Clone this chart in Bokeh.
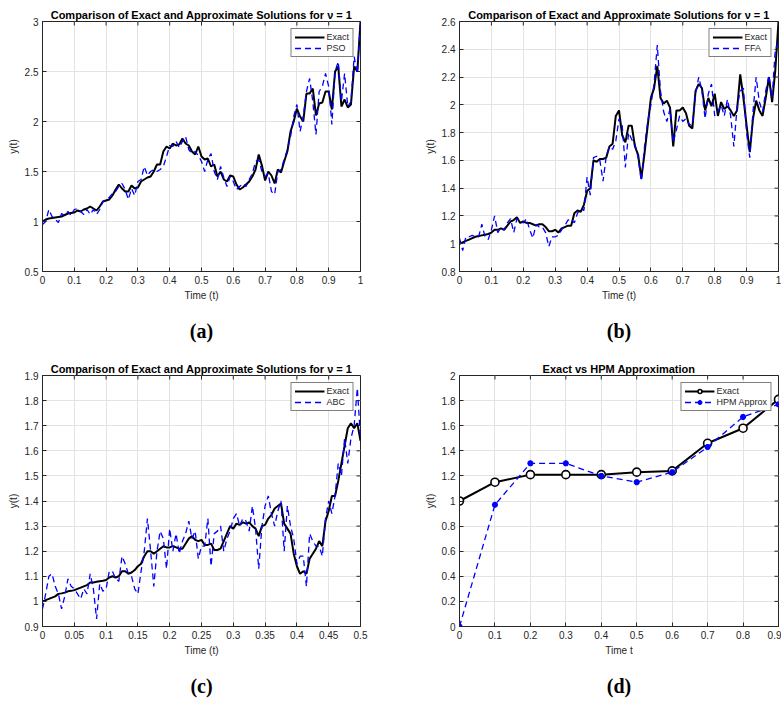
import numpy as np
from bokeh.plotting import figure
from bokeh.models import (FixedTicker, Legend, LegendItem, Title, Range1d)
from bokeh.layouts import column, row
from bokeh.embed import file_html
from bokeh.resources import INLINE

# ---------------- data ----------------
title_cmp = "Comparison of Exact and Approximate Solutions for \u03bd = 1"
title_hpm = "Exact vs HPM Approximation"

t_ab = np.linspace(0, 1, 101)
t_c = np.linspace(0, 0.5, 101)
t_d = [0, 0.1, 0.2, 0.3, 0.4, 0.5, 0.6, 0.7, 0.8, 0.9]

exact_a = [1.00, 1.02, 1.03, 1.035, 1.04, 1.045, 1.05, 1.065, 1.08, 1.085,
           1.09, 1.11, 1.10, 1.12, 1.13, 1.15, 1.13, 1.11, 1.15, 1.20,
           1.21, 1.22, 1.26, 1.32, 1.37, 1.33, 1.30, 1.30, 1.36, 1.33,
           1.34, 1.40, 1.42, 1.44, 1.45, 1.50, 1.57, 1.57, 1.70, 1.75,
           1.73, 1.78, 1.76, 1.77, 1.83, 1.78, 1.76, 1.70, 1.67, 1.75,
           1.65, 1.62, 1.63, 1.55, 1.57, 1.45, 1.50, 1.42, 1.40, 1.46,
           1.45, 1.37, 1.32, 1.34, 1.37, 1.40, 1.45, 1.52, 1.67, 1.56,
           1.41, 1.50, 1.46, 1.38, 1.52, 1.49, 1.60, 1.70, 1.90, 2.00,
           2.13, 2.05, 2.00, 2.28, 2.28, 2.33, 2.06, 2.18, 2.19, 2.30,
           2.30, 2.12, 2.50, 2.55, 2.15, 2.22, 2.14, 2.17, 2.55, 2.50,
           3.00]
pso_a = [0.97, 1.00, 1.12, 1.05, 1.02, 0.99, 1.08, 1.06, 1.10, 1.06,
         1.12, 1.13, 1.10, 1.07, 1.12, 1.07, 1.12, 1.07, 1.12, 1.20,
         1.22, 1.24, 1.28, 1.30, 1.35, 1.38, 1.32, 1.22, 1.33, 1.26,
         1.40, 1.42, 1.55, 1.46, 1.50, 1.52, 1.50, 1.52, 1.55, 1.65,
         1.76, 1.75, 1.80, 1.74, 1.80, 1.85, 1.72, 1.68, 1.70, 1.66,
         1.60, 1.50, 1.62, 1.68, 1.50, 1.42, 1.55, 1.44, 1.35, 1.45,
         1.40, 1.32, 1.35, 1.38, 1.35, 1.42, 1.48, 1.60, 1.62, 1.50,
         1.45, 1.48, 1.30, 1.27, 1.50, 1.52, 1.62, 1.72, 1.85, 2.05,
         2.17, 1.90, 2.05, 2.30, 2.43, 2.20, 1.87, 2.30, 2.35, 2.48,
         2.35, 1.97, 2.50, 2.60, 2.20, 2.48, 2.15, 2.20, 2.65, 2.48,
         3.00]

exact_b = [1.00, 1.01, 1.02, 1.03, 1.04, 1.05, 1.055, 1.06, 1.065, 1.07,
           1.08, 1.10, 1.10, 1.11, 1.10, 1.13, 1.16, 1.17, 1.19, 1.15,
           1.16, 1.15, 1.15, 1.14, 1.13, 1.14, 1.14, 1.12, 1.09, 1.09,
           1.10, 1.08, 1.11, 1.12, 1.13, 1.13, 1.22, 1.24, 1.23, 1.28,
           1.38, 1.40, 1.60, 1.59, 1.61, 1.61, 1.62, 1.70, 1.72, 1.92,
           1.96, 1.78, 1.73, 1.85, 1.85, 1.70, 1.64, 1.47, 1.65, 1.85,
           2.05, 2.12, 2.28, 2.05, 2.01, 2.03, 1.98, 1.70, 1.96, 1.96,
           1.98, 1.94, 1.85, 1.83, 2.10, 2.15, 2.12, 1.96, 2.05, 1.99,
           2.08, 1.92, 2.02, 1.97, 1.99, 1.96, 1.92, 1.96, 2.22, 2.05,
           1.85, 1.66, 1.90, 2.03, 1.96, 1.92, 2.05, 2.20, 2.02, 2.25,
           2.60]
ffa_b = [1.04, 0.95, 1.05, 1.05, 1.06, 1.05, 1.05, 1.14, 1.05, 1.03,
         1.10, 1.20, 1.08, 1.12, 1.10, 1.15, 1.18, 1.08, 1.18, 1.17,
         1.15, 1.18, 1.10, 1.04, 1.14, 1.12, 1.12, 1.08, 0.98, 1.05,
         1.05, 1.06, 1.10, 1.13, 1.17, 1.18, 1.15, 1.22, 1.25, 1.24,
         1.48, 1.35, 1.62, 1.63, 1.60, 1.45, 1.63, 1.70, 1.68, 1.74,
         1.90, 1.85, 1.55, 1.80, 1.75, 1.72, 1.62, 1.45, 1.70, 1.88,
         2.00, 2.15, 2.43, 2.10, 1.95, 1.88, 1.97, 1.73, 1.82, 1.92,
         1.88, 1.90, 1.86, 1.85, 2.08, 2.20, 2.10, 1.90, 2.08, 2.15,
         1.92, 1.95, 2.00, 1.92, 2.04, 1.92, 1.70, 1.98, 2.10, 2.12,
         1.80, 1.62, 1.95, 2.20, 2.02, 1.95, 2.10, 2.21, 2.05, 2.40,
         2.45]

exact_c = [1.00, 1.005, 1.01, 1.015, 1.02, 1.03, 1.032, 1.035, 1.04, 1.042,
           1.045, 1.05, 1.055, 1.06, 1.065, 1.075, 1.075, 1.078, 1.08, 1.082,
           1.085, 1.095, 1.10, 1.095, 1.10, 1.12, 1.12, 1.11, 1.115, 1.125,
           1.14, 1.15, 1.18, 1.20, 1.20, 1.19, 1.20, 1.21, 1.22, 1.215,
           1.215, 1.22, 1.215, 1.21, 1.21, 1.23, 1.25, 1.26, 1.245, 1.24,
           1.245, 1.225, 1.225, 1.23, 1.205, 1.205, 1.21, 1.24, 1.27, 1.30,
           1.29, 1.31, 1.305, 1.315, 1.31, 1.315, 1.30, 1.29, 1.26, 1.30,
           1.305, 1.33, 1.345, 1.37, 1.38, 1.39, 1.31, 1.29, 1.27, 1.19,
           1.14, 1.11, 1.12, 1.11, 1.17, 1.19, 1.21, 1.24, 1.22, 1.32,
           1.36, 1.42, 1.42, 1.48, 1.55, 1.62, 1.69, 1.71, 1.69, 1.71,
           1.64]
abc_c = [0.97, 1.03, 1.10, 1.11, 1.06, 1.03, 0.97, 1.02, 1.09, 1.06,
         1.05, 1.03, 1.01, 1.05, 1.03, 1.11, 1.05, 0.93, 1.07, 1.04,
         1.05, 1.12, 1.12, 1.09, 1.08, 1.18, 1.15, 1.11, 1.10, 1.05,
         1.03, 1.12, 1.20, 1.33, 1.20, 1.06, 1.20, 1.28, 1.25, 1.13,
         1.29, 1.20, 1.27, 1.19, 1.24, 1.27, 1.32, 1.25, 1.28, 1.17,
         1.22, 1.22, 1.33, 1.14, 1.27, 1.28, 1.30, 1.20, 1.25, 1.28,
         1.33, 1.35, 1.30, 1.33, 1.32, 1.28, 1.38, 1.29, 1.13, 1.30,
         1.38, 1.42, 1.35, 1.30, 1.36, 1.40, 1.20, 1.38, 1.30, 1.25,
         1.15, 1.18, 1.18, 1.06, 1.27, 1.24, 1.22, 1.22, 1.18, 1.33,
         1.40, 1.35, 1.42, 1.55, 1.50, 1.65, 1.55, 1.65, 1.70, 1.85,
         1.65]

exact_d = [1.00, 1.15, 1.21, 1.21, 1.21, 1.23, 1.24, 1.46, 1.58, 1.81]
hpm_d = [0.00, 0.97, 1.30, 1.30, 1.20, 1.15, 1.23, 1.43, 1.67, 1.77]

xt_ab = [0, 0.1, 0.2, 0.3, 0.4, 0.5, 0.6, 0.7, 0.8, 0.9, 1]
xl_ab = ["0", "0.1", "0.2", "0.3", "0.4", "0.5", "0.6", "0.7", "0.8", "0.9", "1"]
xt_c = [0, 0.05, 0.1, 0.15, 0.2, 0.25, 0.3, 0.35, 0.4, 0.45, 0.5]
xl_c = ["0", "0.05", "0.1", "0.15", "0.2", "0.25", "0.3", "0.35", "0.4", "0.45", "0.5"]
xt_d = [0, 0.1, 0.2, 0.3, 0.4, 0.5, 0.6, 0.7, 0.8, 0.9]
xl_d = ["0", "0.1", "0.2", "0.3", "0.4", "0.5", "0.6", "0.7", "0.8", "0.9"]
yt_a = [0.5, 1, 1.5, 2, 2.5, 3]
yl_a = ["0.5", "1", "1.5", "2", "2.5", "3"]
yt_b = [0.8, 1, 1.2, 1.4, 1.6, 1.8, 2, 2.2, 2.4, 2.6]
yl_b = ["0.8", "1", "1.2", "1.4", "1.6", "1.8", "2", "2.2", "2.4", "2.6"]
yt_c = [0.9, 1, 1.1, 1.2, 1.3, 1.4, 1.5, 1.6, 1.7, 1.8, 1.9]
yl_c = ["0.9", "1", "1.1", "1.2", "1.3", "1.4", "1.5", "1.6", "1.7", "1.8", "1.9"]
yt_d = [0, 0.2, 0.4, 0.6, 0.8, 1, 1.2, 1.4, 1.6, 1.8, 2]
yl_d = ["0", "0.2", "0.4", "0.6", "0.8", "1", "1.2", "1.4", "1.6", "1.8", "2"]

# ---------------- style ----------------
FONT = "Liberation Sans"
AX = "#262626"
GRID = "#e3e3e3"
BLUE = "#0000ff"
TICK_PX = 4


def make_fig(xr, yr, xt, xl, yt, yl, title, xlabel, caption,
             fw, fh, bl, br, bt, bb):
    p = figure(frame_width=fw, frame_height=fh,
               x_range=Range1d(*xr), y_range=Range1d(*yr),
               output_backend="svg", toolbar_location=None,
               min_border_left=bl, min_border_right=br,
               min_border_top=bt, min_border_bottom=bb,
               title=title)
    p.title.text_font = FONT
    p.title.text_font_size = "11px"
    p.title.text_font_style = "bold"
    p.title.text_color = "black"
    p.title.align = "center"
    p.title.standoff = 2
    p.outline_line_color = AX
    p.outline_line_width = 1
    p.background_fill_color = "white"
    p.border_fill_color = "white"

    p.xaxis.ticker = FixedTicker(ticks=xt)
    p.xaxis.major_label_overrides = dict(zip(xt, xl))
    p.yaxis.ticker = FixedTicker(ticks=yt)
    p.yaxis.major_label_overrides = dict(zip(yt, yl))
    p.xaxis.axis_label = xlabel
    p.yaxis.axis_label = "y(t)"
    for ax in (p.xaxis, p.yaxis):
        ax.axis_line_color = AX
        ax.major_tick_line_color = AX
        ax.major_tick_in = TICK_PX
        ax.major_tick_out = 0
        ax.minor_tick_line_color = None
        ax.major_label_text_font = FONT
        ax.major_label_text_font_size = "10px"
        ax.major_label_text_color = AX
        ax.axis_label_text_font = FONT
        ax.axis_label_text_font_size = "10px"
        ax.axis_label_text_font_style = "normal"
        ax.axis_label_text_color = AX
        ax.major_label_standoff = 4
        ax.axis_label_standoff = 3

    # inward tick marks on the top and right edges of the box
    dy = (yr[1] - yr[0]) * TICK_PX / fh
    dx = (xr[1] - xr[0]) * TICK_PX / fw
    p.segment(x0=xt, y0=[yr[1]] * len(xt), x1=xt, y1=[yr[1] - dy] * len(xt),
              line_color=AX, line_width=1)
    p.segment(x0=[xr[1]] * len(yt), y0=yt, x1=[xr[1] - dx] * len(yt), y1=yt,
              line_color=AX, line_width=1)

    p.grid.grid_line_color = GRID
    p.grid.grid_line_width = 1
    p.xgrid.ticker = FixedTicker(ticks=xt)
    p.ygrid.ticker = FixedTicker(ticks=yt)

    cap = Title(text=caption, align="center", text_font="Liberation Serif",
                text_font_size="20px", text_font_style="bold",
                text_color="black", standoff=29)
    p.add_layout(cap, "below")
    return p


def add_legend(p, items):
    lg = Legend(items=items, location="top_right")
    lg.border_line_color = "black"
    lg.border_line_width = 1
    lg.background_fill_color = "white"
    lg.background_fill_alpha = 1
    lg.label_text_font = FONT
    lg.label_text_font_size = "9px"
    lg.label_text_color = AX
    lg.glyph_width = 30
    lg.glyph_height = 10
    lg.label_height = 10
    lg.label_standoff = 2
    lg.spacing = 1
    lg.padding = 3
    lg.margin = 7
    p.add_layout(lg)


def series_panel(t, ex, ap, ap_name, xr, yr, xt, xl, yt, yl, caption,
                 fw, fh, bl, br, bt, bb):
    p = make_fig(xr, yr, xt, xl, yt, yl, title_cmp, "Time (t)", caption,
                 fw, fh, bl, br, bt, bb)
    r1 = p.line(t, ex, line_color="black", line_width=2)
    r2 = p.line(t, ap, line_color=BLUE, line_width=1.3, line_dash="6 4")
    add_legend(p, [LegendItem(label="Exact", renderers=[r1]),
                   LegendItem(label=ap_name, renderers=[r2])])
    return p


pa = series_panel(t_ab, exact_a, pso_a, "PSO", (0, 1), (0.5, 3),
                  xt_ab, xl_ab, yt_a, yl_a, "(a)", 318, 250, 42, 57, 21, 84)
pb = series_panel(t_ab, exact_b, ffa_b, "FFA", (0, 1), (0.8, 2.6),
                  xt_ab, xl_ab, yt_b, yl_b, "(b)", 319, 250, 42, 3, 21, 84)
pc = series_panel(t_c, exact_c, abc_c, "ABC", (0, 0.5), (0.9, 1.9),
                  xt_c, xl_c, yt_c, yl_c, "(c)", 318, 251, 42, 57, 19, 75)

pd = make_fig((0, 0.9), (0, 2), xt_d, xl_d, yt_d, yl_d, title_hpm, "Time t",
              "(d)", 319, 251, 42, 3, 19, 75)
l1 = pd.line(t_d, exact_d, line_color="black", line_width=2)
s1 = pd.scatter(t_d, exact_d, marker="circle", size=8, fill_color="white",
                line_color="black", line_width=1.6)
l2 = pd.line(t_d, hpm_d, line_color=BLUE, line_width=1.3, line_dash="6 4")
s2 = pd.scatter(t_d, hpm_d, marker="asterisk", size=6, line_color=BLUE,
                line_width=2)
s3 = pd.scatter(t_d, hpm_d, marker="circle", size=4, fill_color=BLUE,
                line_color=BLUE)
add_legend(pd, [LegendItem(label="Exact", renderers=[l1, s1]),
                LegendItem(label="HPM Approx", renderers=[l2, s2, s3])])

layout = column(row(pa, pb), row(pc, pd))
open("out.html", "w").write(file_html(layout, INLINE))
